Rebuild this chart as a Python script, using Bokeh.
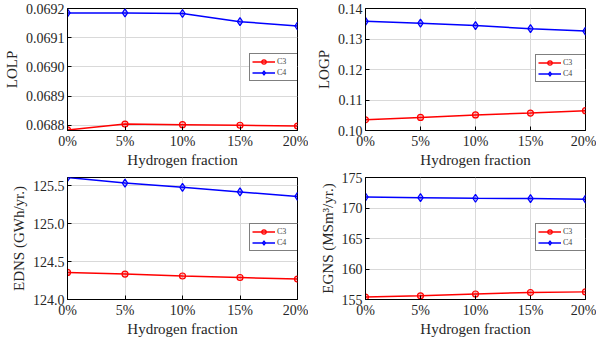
from bokeh.plotting import figure
from bokeh.layouts import gridplot
from bokeh.models import FixedTicker, Range1d, Legend, LegendItem
from bokeh.embed import file_html
from bokeh.resources import INLINE

x_vals = [0, 5, 10, 15, 20]
x_labels = ["0%", "5%", "10%", "15%", "20%"]

lolp_c3 = [0.068784, 0.068804, 0.068802, 0.068800, 0.068797]
lolp_c4 = [0.069185, 0.069185, 0.069183, 0.069155, 0.069140]
logp_c3 = [0.1035, 0.1043, 0.1051, 0.1057, 0.1065]
logp_c4 = [0.1358, 0.1352, 0.1344, 0.1334, 0.1326]
edns_c3 = [124.357, 124.335, 124.31, 124.29, 124.27]
edns_c4 = [125.61, 125.536, 125.48, 125.42, 125.36]
egns_c3 = [155.4, 155.6, 155.9, 156.15, 156.25]
egns_c4 = [171.8, 171.7, 171.6, 171.55, 171.45]

FONT = "Liberation Serif"


def style_axis(ax):
    ax.update(axis_label_text_font=FONT,
              axis_label_text_font_style="normal",
              axis_label_text_font_size="15px",
              axis_label_text_color="#262626",
              major_label_text_font=FONT,
              major_label_text_font_style="normal",
              major_label_text_font_size="14px",
              major_label_text_color="#262626",
              major_tick_in=4, major_tick_out=0,
              minor_tick_in=0, minor_tick_out=0,
              axis_line_color="black", major_tick_line_color="black")


def make(c3, c4, ylab, yr, yticks, fmt, w, h, left, right, top, bottom):
    p = figure(width=w, height=h, output_backend="svg", toolbar_location=None,
               x_range=Range1d(0, 20), y_range=Range1d(*yr),
               min_border_left=left, min_border_right=right,
               min_border_top=top, min_border_bottom=bottom)
    p.outline_line_color = "black"
    p.outline_line_width = 1
    l1 = p.line(x_vals, c3, color="#ff0000", line_width=1.5)
    s1 = p.scatter(x_vals, c3, marker="circle", size=6, line_color="#ff0000",
                   fill_color="#ff0000", fill_alpha=0.25, line_width=1.2)
    l2 = p.line(x_vals, c4, color="#0000ff", line_width=1.5)
    s2 = p.scatter(x_vals, c4, marker="diamond", size=8, line_color="#0000ff",
                   fill_color="#0000ff", fill_alpha=0.25, line_width=1.2)
    xa = p.xaxis[0]
    ya = p.yaxis[0]
    xa.ticker = FixedTicker(ticks=x_vals)
    xa.major_label_overrides = {v: l for v, l in zip(x_vals, x_labels)}
    ya.ticker = FixedTicker(ticks=yticks)
    ya.major_label_overrides = {v: fmt.format(v) for v in yticks}
    xa.axis_label = "Hydrogen fraction"
    ya.axis_label = ylab
    style_axis(xa)
    style_axis(ya)
    xa.axis_label_standoff = 0
    xa.major_label_standoff = 3
    ya.axis_label_standoff = 3
    ya.major_label_standoff = 3
    p.xgrid.ticker = FixedTicker(ticks=x_vals)
    p.ygrid.ticker = FixedTicker(ticks=yticks)
    p.grid.grid_line_color = "#d9d9d9"
    p.grid.grid_line_width = 1
    fh = h - top - bottom
    fw = w - left - right
    leg = Legend(items=[LegendItem(label="C3", renderers=[l1, s1]),
                        LegendItem(label="C4", renderers=[l2, s2])],
                 location=(fw - 50, int(fh * 0.40)))
    leg.label_text_font = FONT
    leg.label_text_font_size = "8px"
    leg.label_height = 10
    leg.glyph_height = 11
    leg.glyph_width = 23
    leg.label_standoff = 2
    leg.spacing = 0
    leg.padding = 2
    leg.margin = 0
    leg.border_line_color = "black"
    leg.border_line_width = 1
    leg.background_fill_color = "white"
    p.add_layout(leg)
    return p


p1 = make(lolp_c3, lolp_c4, "LOLP", (0.068782, 0.0692),
          [0.0688, 0.0689, 0.0690, 0.0691, 0.0692], "{:.4f}",
          308, 172, 65, 11, 8, 40)
p2 = make(logp_c3, logp_c4, "LOGP", (0.10, 0.14),
          [0.10, 0.11, 0.12, 0.13, 0.14], "{:.2f}",
          288, 172, 57, 11, 8, 42)
p3 = make(edns_c3, edns_c4, "EDNS (GWh/yr.)", (124.0, 125.61),
          [124.0, 124.5, 125.0, 125.5], "{:.1f}",
          308, 173, 65, 11, 5, 46)
p4 = make(egns_c3, egns_c4, "EGNS (MSm\u00b3/yr.)", (155, 175),
          [155, 160, 165, 170, 175], "{:.0f}",
          288, 173, 57, 11, 5, 46)

grid = gridplot([[p1, p2], [p3, p4]], toolbar_location=None)
open("out.html", "w").write(file_html(grid, INLINE))
